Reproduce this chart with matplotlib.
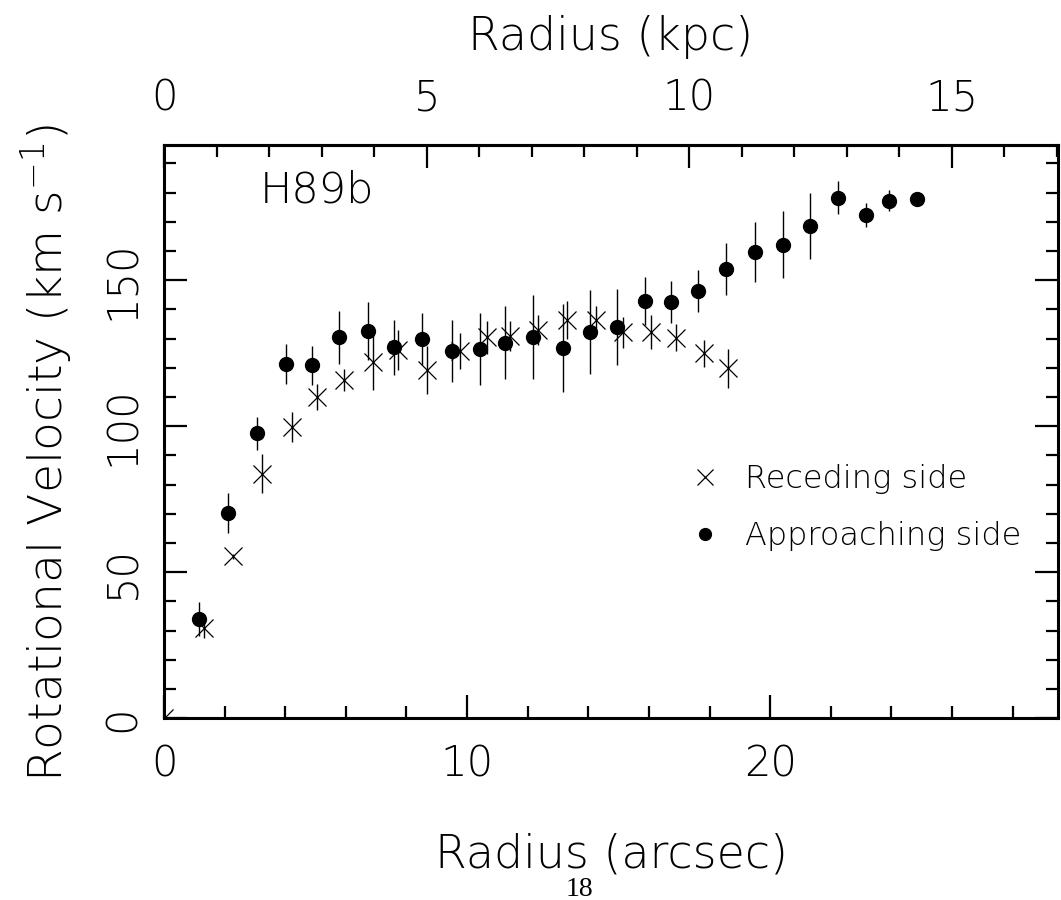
import matplotlib
matplotlib.use("Agg")
import matplotlib.pyplot as plt
from matplotlib.lines import Line2D
from matplotlib.ticker import MultipleLocator, FixedLocator

# Receding side (crosses)
rec_r = [0.0, 1.32, 2.29, 3.22, 4.22, 5.04, 5.95, 6.89, 7.73, 8.68, 9.77,
         10.65, 11.43, 12.33, 13.29, 14.27, 15.13, 16.06, 16.90, 17.81, 18.60]
rec_v = [0.0, 30.8, 55.4, 83.8, 99.7, 110.1, 115.9, 121.9, 126.1, 119.3, 125.7,
         130.5, 130.9, 133.0, 136.4, 136.4, 132.1, 132.4, 130.3, 125.0, 119.9]
rec_e = [0.0, 3.4, 1.0, 6.7, 5.1, 4.5, 3.8, 9.6, 7.0, 8.3, 6.2,
         5.7, 5.3, 5.2, 6.6, 4.8, 5.4, 5.8, 4.7, 4.6, 6.7]

# Approaching side (filled circles)
app_r = [1.16, 2.11, 3.06, 4.03, 4.87, 5.76, 6.72, 7.60, 8.52, 9.49, 10.41,
         11.25, 12.16, 13.15, 14.04, 14.95, 15.87, 16.72, 17.63, 18.56, 19.49,
         20.43, 21.33, 22.24, 23.15, 23.93, 24.83]
app_v = [34.0, 70.3, 97.6, 121.3, 120.8, 130.5, 132.6, 127.0, 129.8, 125.7, 126.4,
         128.6, 130.6, 126.8, 132.3, 134.1, 142.9, 142.6, 146.4, 153.8, 159.6,
         162.2, 168.5, 178.3, 172.4, 177.2, 177.9]
app_e = [5.9, 6.7, 5.7, 6.7, 6.8, 9.1, 10.0, 9.4, 9.0, 10.6, 12.4,
         12.4, 14.4, 15.0, 14.4, 13.0, 8.1, 7.3, 7.2, 8.8, 10.3,
         11.6, 11.4, 5.7, 4.1, 3.6, 1.0]

legend_labels = ["Receding side", "Approaching side"]
kpc_ticks = [0, 5, 10, 15]
kpc_minor = list(range(0, 18))
KPC_PER_ARCSEC = 0.577

plt.rcParams["font.family"] = ["DejaVu Sans"]
plt.rcParams["font.weight"] = 250
plt.rcParams["axes.labelweight"] = 250
plt.rcParams["mathtext.fontset"] = "dejavusans"

fig = plt.figure(figsize=(10.61, 9.0), dpi=100)
ax = fig.add_axes([0.1546, 0.2019, 0.8426, 0.6370])

ax.errorbar(rec_r, rec_v, yerr=rec_e, fmt="none", ecolor="black", elinewidth=1.0)
ax.plot(rec_r, rec_v, linestyle="none", marker="x", markersize=12.5,
        markeredgewidth=0.9, color="black")
ax.errorbar(app_r, app_v, yerr=app_e, fmt="none", ecolor="black", elinewidth=1.0)
ax.plot(app_r, app_v, linestyle="none", marker="o", markersize=10,
        color="black")

ax.set_xlim(0, 29.5)
ax.set_ylim(0, 196.3)

ax.xaxis.set_major_locator(MultipleLocator(10))
ax.xaxis.set_minor_locator(MultipleLocator(2))
ax.yaxis.set_major_locator(MultipleLocator(50))
ax.yaxis.set_minor_locator(MultipleLocator(10))

for s in ax.spines.values():
    s.set_linewidth(2.2)

ax.tick_params(axis="both", which="major", direction="in", length=16.5, width=1.6,
               labelsize=30, right=True, top=False)
ax.tick_params(axis="both", which="minor", direction="in", length=8.5, width=1.6,
               right=True, top=False)
ax.tick_params(axis="x", which="major", pad=18.5)
ax.tick_params(axis="y", which="major", pad=15)
for lab in ax.get_yticklabels():
    lab.set_rotation(90)
    lab.set_va("center")

sec = ax.secondary_xaxis("top", functions=(lambda a: a * KPC_PER_ARCSEC,
                                           lambda k: k / KPC_PER_ARCSEC))
sec.xaxis.set_major_locator(FixedLocator(kpc_ticks))
sec.xaxis.set_minor_locator(FixedLocator(kpc_minor))
sec.tick_params(which="major", direction="in", length=16.5, width=1.6, labelsize=30, pad=19)
sec.tick_params(which="minor", direction="in", length=8.5, width=1.6)
sec.spines["top"].set_linewidth(2.2)
sec.set_xlabel("Radius (kpc)", fontsize=33, labelpad=20)

ax.set_xlabel("Radius (arcsec)", fontsize=33, labelpad=34)
ax.set_ylabel("Rotational Velocity (km s$^{-1}$)", fontsize=34)
ax.yaxis.set_label_coords(-0.100, 0.463)

ax.text(0.107, 0.899, "H89b", transform=ax.transAxes, fontsize=31,
        ha="left", va="baseline")

handles = [Line2D([], [], linestyle="none", marker="x", markersize=12,
                  markeredgewidth=0.9, color="black"),
           Line2D([], [], linestyle="none", marker="o", markersize=8.5, color="black")]
ax.legend(handles, legend_labels, loc="center left",
          bbox_to_anchor=(0.587, 0.368), frameon=False, fontsize=23,
          handlelength=1.0, handletextpad=0.75, labelspacing=0.85, borderpad=0,
          borderaxespad=0)

fig.text(579 / 1061, 1 - 889 / 900, "18", family=["Liberation Serif", "DejaVu Serif"],
         fontsize=20, ha="center", va="center", weight="normal")

fig.savefig("out.png", dpi=100)
